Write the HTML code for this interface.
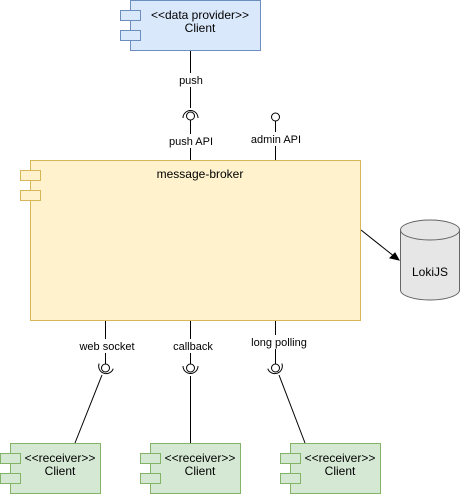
<!DOCTYPE html>
<html><head><style>body{margin:0;background:#fff}svg{display:block}text{font-family:"Liberation Sans",Arial,sans-serif;font-size:12px;fill:#000}</style></head><body>
<svg width="461" height="494" viewBox="0 0 461 494" xmlns="http://www.w3.org/2000/svg">
<g stroke="#000" stroke-width="1" fill="none">
<line x1="190.5" y1="50" x2="190.5" y2="108"/>
<line x1="190.5" y1="120" x2="190.5" y2="160"/>
<circle cx="190.5" cy="116" r="4" fill="#fff"/>
<path d="M183 118 A7.5 7.5 0 0 1 198 118"/>
<line x1="275.5" y1="121" x2="275.5" y2="160"/>
<circle cx="275.5" cy="117" r="4"/>
<line x1="105.5" y1="320" x2="105.5" y2="364"/>
<circle cx="105.5" cy="368" r="4"/>
<path d="M98 366 A7.5 7.5 0 0 0 113 366" transform="rotate(20 105.5 368)"/>
<line x1="102" y1="375" x2="75" y2="443"/>
<line x1="190.5" y1="320" x2="190.5" y2="364"/>
<circle cx="190.5" cy="368" r="4"/>
<path d="M183 366 A7.5 7.5 0 0 0 198 366"/>
<line x1="190.5" y1="376" x2="190.5" y2="443"/>
<line x1="275.5" y1="320" x2="275.5" y2="364"/>
<circle cx="275.5" cy="368" r="4"/>
<path d="M268 366 A7.5 7.5 0 0 0 283 366" transform="rotate(-20 275.5 368)"/>
<line x1="279" y1="375" x2="305" y2="443"/>
<line x1="361" y1="230" x2="395" y2="257"/>
</g>
<path d="M399 260 L390 258 L395 253 Z" fill="#000" stroke="#000"/>
<rect x="178" y="73" width="26" height="14" fill="#fff"/>
<rect x="168" y="134" width="46" height="14" fill="#fff"/>
<rect x="252" y="132" width="48" height="14" fill="#fff"/>
<rect x="78" y="339" width="58" height="14" fill="#fff"/>
<rect x="172" y="339" width="42" height="14" fill="#fff"/>
<rect x="250" y="335" width="58" height="14" fill="#fff"/>
<text x="191" y="84" text-anchor="middle" style="font-size:11px">push</text>
<text x="191" y="145" text-anchor="middle" style="font-size:11px">push API</text>
<text x="276" y="143" text-anchor="middle" style="font-size:11px">admin API</text>
<text x="107" y="350" text-anchor="middle" style="font-size:11px">web socket</text>
<text x="193" y="350" text-anchor="middle" style="font-size:11px">callback</text>
<text x="279" y="346" text-anchor="middle" style="font-size:11px">long polling</text>
<rect x="130.5" y="0.5" width="130" height="50" fill="#dae8fc" stroke="#6c8ebf"/>
<rect x="120.5" y="10.5" width="20" height="10" fill="#dae8fc" stroke="#6c8ebf"/>
<rect x="120.5" y="30.5" width="20" height="10" fill="#dae8fc" stroke="#6c8ebf"/>
<text x="200" y="19" text-anchor="middle">&lt;&lt;data provider&gt;&gt;</text>
<text x="200" y="32" text-anchor="middle">Client</text>
<rect x="30.5" y="160.5" width="330" height="160" fill="#fff2cc" stroke="#d6b656"/>
<rect x="20.5" y="170.5" width="20" height="10" fill="#fff2cc" stroke="#d6b656"/>
<rect x="20.5" y="190.5" width="20" height="10" fill="#fff2cc" stroke="#d6b656"/>
<text x="200" y="178" text-anchor="middle">message-broker</text>
<path d="M400.5 230 A29.5 10 0 0 1 459.5 230 L459.5 290 A29.5 10 0 0 1 400.5 290 Z" fill="#e6e6e6" stroke="#666"/>
<path d="M400.5 230 A29.5 10 0 0 0 459.5 230" fill="none" stroke="#666"/>
<text x="430" y="276" text-anchor="middle">LokiJS</text>
<g fill="#d5e8d4" stroke="#82b366">
<rect x="10.5" y="443.5" width="90" height="50"/><rect x="0.5" y="453.5" width="20" height="10"/><rect x="0.5" y="473.5" width="20" height="10"/>
<rect x="150.5" y="443.5" width="90" height="50"/><rect x="140.5" y="453.5" width="20" height="10"/><rect x="140.5" y="473.5" width="20" height="10"/>
<rect x="290.5" y="443.5" width="90" height="50"/><rect x="280.5" y="453.5" width="20" height="10"/><rect x="280.5" y="473.5" width="20" height="10"/>
</g>
<text x="60" y="462" text-anchor="middle">&lt;&lt;receiver&gt;&gt;</text>
<text x="60" y="475" text-anchor="middle">Client</text>
<text x="200" y="462" text-anchor="middle">&lt;&lt;receiver&gt;&gt;</text>
<text x="200" y="475" text-anchor="middle">Client</text>
<text x="340" y="462" text-anchor="middle">&lt;&lt;receiver&gt;&gt;</text>
<text x="340" y="475" text-anchor="middle">Client</text>
</svg>
</body></html>
